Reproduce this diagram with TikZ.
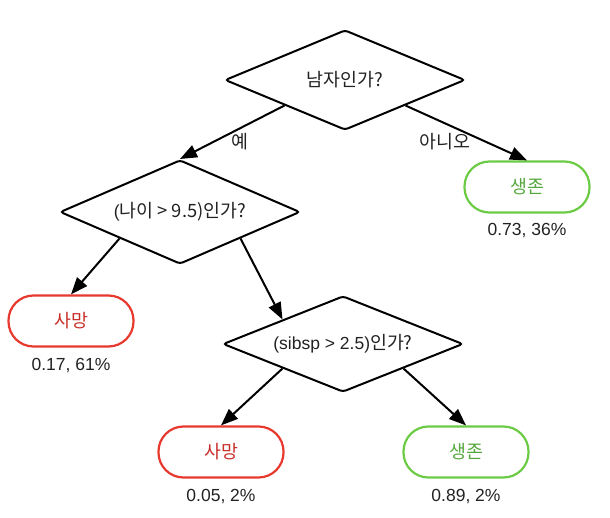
\documentclass[tikz,border=0pt]{standalone}
\usepackage{fontspec}
\setmainfont{Liberation Sans}
\newfontfamily\kr[Scale=1.05]{Noto Sans CJK KR}
\usetikzlibrary{shapes.geometric,arrows.meta}
\definecolor{redline}{HTML}{E8392F}
\definecolor{redtext}{HTML}{C9302A}
\definecolor{greenline}{HTML}{6CCB45}
\definecolor{greentext}{HTML}{55A83E}
\definecolor{txt}{HTML}{222222}
\begin{document}
\begin{tikzpicture}[x=1pt,y=-1pt,
  every node/.style={font=\fontsize{17.5}{20}\selectfont, text=txt},
  question/.style={draw=black, line width=2pt, diamond, aspect=2.4, minimum width=240pt, minimum height=100pt, inner sep=0pt, rounded corners=3pt},
  leaf/.style={draw, line width=2.2pt, rectangle, minimum width=125pt, minimum height=51pt, rounded corners=25pt, inner sep=0pt},
  dead/.style={leaf, draw=redline, text=redtext},
  alive/.style={leaf, draw=greenline, text=greentext},
  conn/.style={line width=2pt, -{Triangle[length=17pt,width=13pt]}},
  edgelab/.style={font=\fontsize{17.5}{20}\selectfont}
]
\useasboundingbox (0,0) rectangle (610,518);
\node[question] (q1) at (345,80) {\kr 남자인가?};
\node[question, minimum height=104pt] (q2) at (180,212) {(\kr{나이}\ > 9.5)\kr{인가}?};
\node[question, minimum height=96pt] (q3) at (343,344) {(sibsp > 2.5)\kr{인가}?};

\node[alive] (s1) at (527,187) {\kr 생존};
\node[dead] (d1) at (71,321) {\kr 사망};
\node[dead] (d2) at (221,452) {\kr 사망};
\node[alive] (s2) at (466,452) {\kr 생존};

\node (p1) at (527,231) {0.73, 36\%};
\node (p2) at (71,366) {0.17, 61\%};
\node (p3) at (221,497) {0.05, 2\%};
\node (p4) at (466,497) {0.89, 2\%};

\draw[conn] (q1.south west) -- (q2.north);
\draw[conn] (q1.south east) -- (s1.north);
\draw[conn] (q2.south west) -- (d1.north);
\draw[conn] (q2.south east) -- (q3.north west);
\draw[conn] (q3.south west) -- (d2.north);
\draw[conn] (q3.south east) -- (s2.north);

\node[edgelab] (ly) at (240,142) {\kr 예};
\node[edgelab] (ln) at (445,142) {\kr 아니오};
\end{tikzpicture}
\end{document}
